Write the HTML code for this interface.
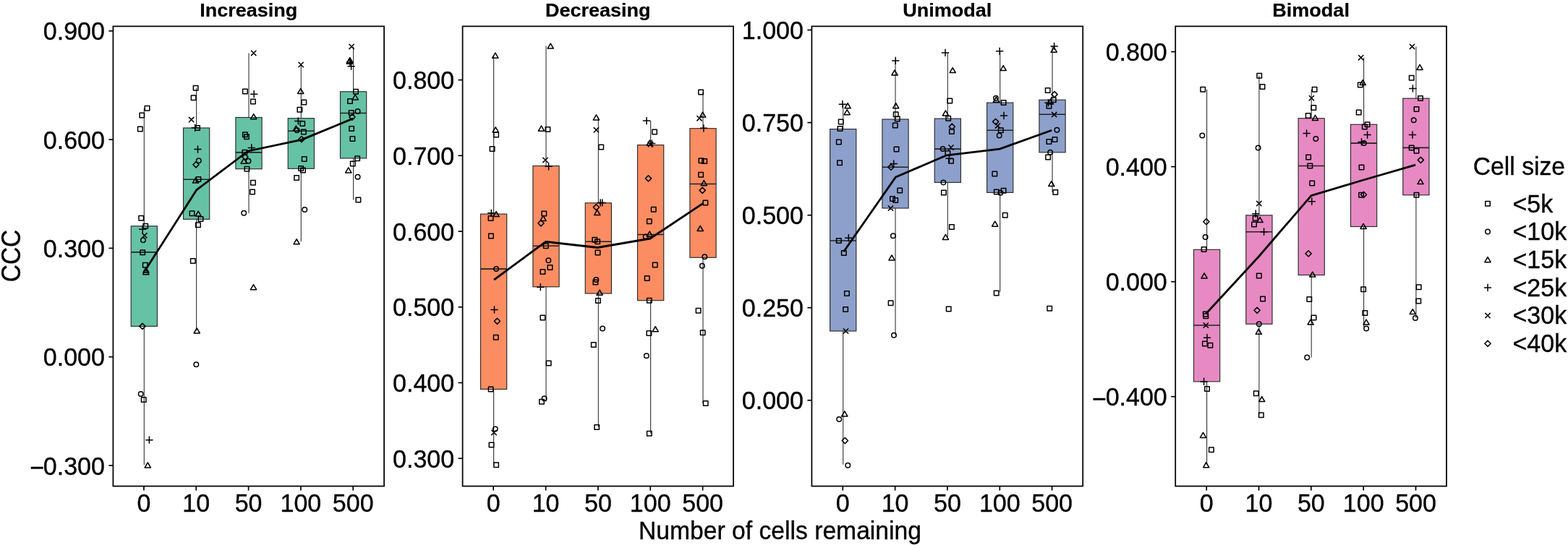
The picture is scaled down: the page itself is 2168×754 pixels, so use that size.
<!DOCTYPE html>
<html><head><meta charset="utf-8"><title>CCC by number of cells remaining</title>
<style>
html,body{margin:0;padding:0;background:#fff;}
body{width:2168px;height:754px;overflow:hidden;}
svg{display:block;}
text{font-family:"Liberation Sans",Arial,Helvetica,sans-serif;fill:#000;stroke:#000;stroke-width:0.35px;}
.yl{font-size:34px;text-anchor:end;}
.xl{font-size:34px;text-anchor:middle;}
.at{font-size:34px;text-anchor:middle;}
.lt{font-size:34px;}
.ll{font-size:34px;}
.st{font-size:26.25px;font-weight:bold;text-anchor:middle;stroke-width:0.2px;}
.wh{stroke:#333;stroke-width:1.1;}
.bx{stroke:#2a2a2a;stroke-width:1.15;}
.md{stroke:#222;stroke-width:1.6;}
.pts{fill:none;stroke:#000;stroke-width:1.5;stroke-linecap:round;stroke-linejoin:round;}
.mean{fill:none;stroke:#000;stroke-width:2.8;stroke-linejoin:round;}
.frame{fill:none;stroke:#000;stroke-width:1.75;}
.tk{stroke:#000;stroke-width:1.7;}
</style></head>
<body>
<svg width="2168" height="754" viewBox="0 0 2168 754">
<rect width="2168" height="754" fill="#fff"/>
<g class="box"><line class="wh" x1="199.3" y1="149.7" x2="199.3" y2="643.3"/><rect class="bx" x="181.2" y="312.8" width="36.2" height="138.6" fill="#66C2A5"/><line class="md" x1="181.2" y1="348.9" x2="217.4" y2="348.9"/><line class="wh" x1="271.6" y1="121.6" x2="271.6" y2="457.5"/><rect class="bx" x="253.5" y="177" width="36.2" height="126.3" fill="#66C2A5"/><line class="md" x1="253.5" y1="248.3" x2="289.7" y2="248.3"/><line class="wh" x1="344" y1="73.4" x2="344" y2="294.8"/><rect class="bx" x="325.9" y="162.5" width="36.2" height="71.2" fill="#66C2A5"/><line class="md" x1="325.9" y1="210.9" x2="362.1" y2="210.9"/><line class="wh" x1="416.3" y1="89.5" x2="416.3" y2="334.3"/><rect class="bx" x="398.2" y="163.7" width="36.2" height="69.6" fill="#66C2A5"/><line class="md" x1="398.2" y1="181.3" x2="434.4" y2="181.3"/><line class="wh" x1="488.6" y1="64.4" x2="488.6" y2="276.6"/><rect class="bx" x="470.5" y="126.8" width="36.2" height="92.1" fill="#66C2A5"/><line class="md" x1="470.5" y1="156.5" x2="506.7" y2="156.5"/></g>
<g class="pts"><rect x="200.25" y="146.45" width="6.5" height="6.5"/><rect x="193.05" y="156.25" width="6.5" height="6.5"/><rect x="190.55" y="175.35" width="6.5" height="6.5"/><rect x="191.95" y="298.45" width="6.5" height="6.5"/><rect x="197.95" y="309.55" width="6.5" height="6.5"/><path d="M192.6 317.2H201.8M197.2 312.6V321.8"/><path d="M196.6 322.6L203 329M196.6 329L203 322.6"/><circle cx="197.9" cy="332.2" r="3.25"/><rect x="193.95" y="346.05" width="6.5" height="6.5"/><rect x="197.55" y="363.45" width="6.5" height="6.5"/><path d="M201.8 370.05L205.9 377.1L197.7 377.1Z"/><path d="M201.8 372.65L205.9 379.7L197.7 379.7Z"/><path d="M196.9 447.3L201 451.4L196.9 455.5L192.8 451.4Z"/><circle cx="194.7" cy="545.1" r="3.25"/><rect x="195.45" y="549.75" width="6.5" height="6.5"/><path d="M201.8 608.7H211M206.4 604.1V613.3"/><path d="M204.3 639.95L208.4 647L200.2 647Z"/><rect x="267.35" y="118.45" width="6.5" height="6.5"/><rect x="264.35" y="132.05" width="6.5" height="6.5"/><path d="M261.4 162.4L267.8 168.8M261.4 168.8L267.8 162.4"/><path d="M265.1 176.8H274.3M269.7 172.2V181.4"/><rect x="269.75" y="173.75" width="6.5" height="6.5"/><path d="M268.9 206.6H278.1M273.5 202V211.2"/><circle cx="274.8" cy="222.3" r="3.25"/><path d="M271 223.7L275.1 227.8L271 231.9L266.9 227.8Z"/><rect x="271.15" y="244.85" width="6.5" height="6.5"/><path d="M270.6 245.85L274.7 252.9L266.5 252.9Z"/><rect x="262.25" y="292.05" width="6.5" height="6.5"/><path d="M274.1 292.05L278.2 299.1L270 299.1Z"/><rect x="274.25" y="299.65" width="6.5" height="6.5"/><rect x="270.65" y="307.95" width="6.5" height="6.5"/><rect x="263.55" y="357.75" width="6.5" height="6.5"/><path d="M272.2 453.95L276.3 461L268.1 461Z"/><circle cx="271.3" cy="504.2" r="3.25"/><path d="M347.5 70.2L353.9 76.6M347.5 76.6L353.9 70.2"/><rect x="335.65" y="123.15" width="6.5" height="6.5"/><path d="M346.6 130.2H355.8M351.2 125.6V134.8"/><rect x="346.65" y="137.15" width="6.5" height="6.5"/><path d="M350.7 157.65L354.8 164.7L346.6 164.7Z"/><rect x="335.65" y="182.95" width="6.5" height="6.5"/><rect x="337.75" y="185.95" width="6.5" height="6.5"/><path d="M343.2 204.4H352.4M347.8 199.8V209"/><rect x="335.15" y="207.55" width="6.5" height="6.5"/><path d="M338.9 213.1L343 217.2L338.9 221.3L334.8 217.2Z"/><path d="M337.2 219.15L341.3 226.2L333.1 226.2Z"/><circle cx="343.5" cy="222.7" r="3.25"/><rect x="338.15" y="230.45" width="6.5" height="6.5"/><rect x="346.65" y="249.55" width="6.5" height="6.5"/><rect x="345.75" y="262.25" width="6.5" height="6.5"/><circle cx="337.2" cy="294.8" r="3.25"/><path d="M350.5 393.65L354.6 400.7L346.4 400.7Z"/><path d="M412.9 86.3L419.3 92.7M412.9 92.7L419.3 86.3"/><path d="M415.7 122.45L419.8 129.5L411.6 129.5Z"/><rect x="417.05" y="138.35" width="6.5" height="6.5"/><rect x="411.15" y="148.55" width="6.5" height="6.5"/><path d="M407.7 167.5H416.9M412.3 162.9V172.1"/><rect x="414.95" y="167.65" width="6.5" height="6.5"/><path d="M409.3 174.15L413.4 181.2L405.2 181.2Z"/><circle cx="410.6" cy="180.3" r="3.25"/><rect x="416.65" y="179.15" width="6.5" height="6.5"/><path d="M416.9 188.5L421 192.6L416.9 196.7L412.8 192.6Z"/><rect x="417.45" y="216.85" width="6.5" height="6.5"/><rect x="412.85" y="229.65" width="6.5" height="6.5"/><rect x="415.75" y="232.15" width="6.5" height="6.5"/><rect x="406.85" y="242.75" width="6.5" height="6.5"/><circle cx="421.2" cy="290.1" r="3.25"/><path d="M410.1 330.75L414.2 337.8L406 337.8Z"/><path d="M482.9 61.2L489.3 67.6M482.9 67.6L489.3 61.2"/><path d="M483.8 79.65L487.9 86.7L479.7 86.7Z"/><path d="M483.2 81.25L487.3 88.3L479.1 88.3Z"/><path d="M479.3 86.2H488.5M483.9 81.6V90.8"/><path d="M481 91.7H490.2M485.6 87.1V96.3"/><rect x="488.75" y="123.55" width="6.5" height="6.5"/><path d="M491.2 130.85L495.3 137.9L487.1 137.9Z"/><rect x="480.75" y="136.75" width="6.5" height="6.5"/><circle cx="494.6" cy="153.9" r="3.25"/><rect x="482.45" y="152.85" width="6.5" height="6.5"/><path d="M487 157.9L491.1 162L487 166.1L482.9 162Z"/><rect x="482.85" y="174.85" width="6.5" height="6.5"/><rect x="484.15" y="188.85" width="6.5" height="6.5"/><rect x="490.85" y="216.05" width="6.5" height="6.5"/><rect x="484.55" y="223.25" width="6.5" height="6.5"/><path d="M481.8 231.85L485.9 238.9L477.7 238.9Z"/><circle cx="494.6" cy="244.7" r="3.25"/><rect x="492.15" y="273.35" width="6.5" height="6.5"/></g>
<polyline class="mean" points="202.5,371.3 271.9,262.6 343,209 416.9,193.4 488.2,164"/>
<rect class="frame" x="156.4" y="36.4" width="374.7" height="636.2"/>
<line class="tk" x1="150.4" y1="42.8" x2="156.4" y2="42.8"/>
<text class="yl" transform="translate(144.9 55.3) scale(1 1.04)">0.900</text>
<line class="tk" x1="150.4" y1="193.1" x2="156.4" y2="193.1"/>
<text class="yl" transform="translate(144.9 205.6) scale(1 1.04)">0.600</text>
<line class="tk" x1="150.4" y1="343.4" x2="156.4" y2="343.4"/>
<text class="yl" transform="translate(144.9 355.9) scale(1 1.04)">0.300</text>
<line class="tk" x1="150.4" y1="493.7" x2="156.4" y2="493.7"/>
<text class="yl" transform="translate(144.9 506.2) scale(1 1.04)">0.000</text>
<line class="tk" x1="150.4" y1="644" x2="156.4" y2="644"/>
<text class="yl" transform="translate(144.9 656.5) scale(1 1.04)"><tspan dy="2.5">−</tspan><tspan dx="-1.3" dy="-2.5">0.300</tspan></text>
<line class="tk" x1="198.9" y1="672.6" x2="198.9" y2="678.6"/>
<text class="xl" transform="translate(198.9 708.2) scale(1 1.04)">0</text>
<line class="tk" x1="271.2" y1="672.6" x2="271.2" y2="678.6"/>
<text class="xl" transform="translate(271.2 708.2) scale(1 1.04)">10</text>
<line class="tk" x1="343.6" y1="672.6" x2="343.6" y2="678.6"/>
<text class="xl" transform="translate(343.6 708.2) scale(1 1.04)">50</text>
<line class="tk" x1="415.9" y1="672.6" x2="415.9" y2="678.6"/>
<text class="xl" transform="translate(415.9 708.2) scale(1 1.04)">100</text>
<line class="tk" x1="488.2" y1="672.6" x2="488.2" y2="678.6"/>
<text class="xl" transform="translate(488.2 708.2) scale(1 1.04)">500</text>
<text class="st" transform="translate(343.75 22.9) scale(1.03 1)">Increasing</text>
<g class="box"><line class="wh" x1="682.6" y1="76.7" x2="682.6" y2="643.3"/><rect class="bx" x="664.5" y="296.1" width="36.2" height="242.4" fill="#FC8D62"/><line class="md" x1="664.5" y1="372.1" x2="700.7" y2="372.1"/><line class="wh" x1="755" y1="63.6" x2="755" y2="555.7"/><rect class="bx" x="736.9" y="229.5" width="36.2" height="167.3" fill="#FC8D62"/><line class="md" x1="736.9" y1="340.3" x2="773.1" y2="340.3"/><line class="wh" x1="827.3" y1="162.4" x2="827.3" y2="590.9"/><rect class="bx" x="809.2" y="280.8" width="36.2" height="125.2" fill="#FC8D62"/><line class="md" x1="809.2" y1="334.3" x2="845.4" y2="334.3"/><line class="wh" x1="899.6" y1="167.1" x2="899.6" y2="599.7"/><rect class="bx" x="881.5" y="200.6" width="36.2" height="215.1" fill="#FC8D62"/><line class="md" x1="881.5" y1="324.5" x2="917.7" y2="324.5"/><line class="wh" x1="972" y1="127.6" x2="972" y2="557.9"/><rect class="bx" x="953.9" y="177.7" width="36.2" height="178.6" fill="#FC8D62"/><line class="md" x1="953.9" y1="254.5" x2="990.1" y2="254.5"/></g>
<g class="pts"><path d="M684.8 73.15L688.9 80.2L680.7 80.2Z"/><path d="M685.2 175.85L689.3 182.9L681.1 182.9Z"/><rect x="682.85" y="183.35" width="6.5" height="6.5"/><rect x="677.35" y="202.85" width="6.5" height="6.5"/><path d="M674.7 294.8H683.9M679.3 290.2V299.4"/><path d="M686.1 292.55L690.2 299.6L682 299.6Z"/><rect x="675.25" y="298.75" width="6.5" height="6.5"/><rect x="675.65" y="323.35" width="6.5" height="6.5"/><circle cx="686.1" cy="372.1" r="3.25"/><path d="M678.9 428.5H688.1M683.5 423.9V433.1"/><path d="M687.4 440.2L691.5 444.3L687.4 448.4L683.3 444.3Z"/><rect x="682.45" y="463.55" width="6.5" height="6.5"/><rect x="675.35" y="535.25" width="6.5" height="6.5"/><circle cx="684.8" cy="593.5" r="3.25"/><path d="M679.8 595.2L686.2 601.6M679.8 601.6L686.2 595.2"/><rect x="676.25" y="612.25" width="6.5" height="6.5"/><rect x="682.85" y="640.05" width="6.5" height="6.5"/><path d="M761.2 60.05L765.3 67.1L757.1 67.1Z"/><path d="M748.5 174.15L752.6 181.2L744.4 181.2Z"/><rect x="754.15" y="175.75" width="6.5" height="6.5"/><path d="M750.8 218.2L757.2 224.6M750.8 224.6L757.2 218.2"/><path d="M754 230.3H763.2M758.6 225.7V234.9"/><rect x="749.05" y="292.35" width="6.5" height="6.5"/><path d="M751 298.45L755.1 305.5L746.9 305.5Z"/><path d="M748 304.7L752.1 308.8L748 312.9L743.9 308.8Z"/><rect x="751.55" y="337.05" width="6.5" height="6.5"/><circle cx="758.3" cy="360.2" r="3.25"/><rect x="757.25" y="366.65" width="6.5" height="6.5"/><rect x="747.15" y="372.85" width="6.5" height="6.5"/><path d="M742.7 397.2H751.9M747.3 392.6V401.8"/><rect x="747.15" y="436.25" width="6.5" height="6.5"/><rect x="755.45" y="499.15" width="6.5" height="6.5"/><circle cx="752.6" cy="551.3" r="3.25"/><rect x="745.75" y="552.45" width="6.5" height="6.5"/><path d="M824.4 158.85L828.5 165.9L820.3 165.9Z"/><path d="M821.2 176.6L827.6 183M821.2 183L827.6 176.6"/><rect x="827.95" y="200.35" width="6.5" height="6.5"/><path d="M825.6 280.5H834.8M830.2 275.9V285.1"/><path d="M828.2 280.5H837.4M832.8 275.9V285.1"/><path d="M824.4 282.6L828.5 286.7L824.4 290.8L820.3 286.7Z"/><path d="M825.7 290.45L829.8 297.5L821.6 297.5Z"/><rect x="819.05" y="328.45" width="6.5" height="6.5"/><rect x="822.85" y="331.05" width="6.5" height="6.5"/><rect x="823.25" y="346.35" width="6.5" height="6.5"/><circle cx="824.3" cy="387.1" r="3.25"/><rect x="820.15" y="387.35" width="6.5" height="6.5"/><path d="M829.1 401.15L833.2 408.2L825 408.2Z"/><rect x="823.65" y="412.85" width="6.5" height="6.5"/><circle cx="833.1" cy="454.4" r="3.25"/><rect x="817.55" y="473.65" width="6.5" height="6.5"/><rect x="821.95" y="587.65" width="6.5" height="6.5"/><path d="M889.4 167.1H898.6M894 162.5V171.7"/><rect x="901.75" y="179.15" width="6.5" height="6.5"/><path d="M898.2 194.05L902.3 201.1L894.1 201.1Z"/><path d="M896.3 196.6L902.7 203M896.3 203L902.7 196.6"/><path d="M896.6 198.5H905.8M901.2 193.9V203.1"/><path d="M896.5 242.8L900.6 246.9L896.5 251L892.4 246.9Z"/><rect x="900.45" y="286.45" width="6.5" height="6.5"/><rect x="894.55" y="303.05" width="6.5" height="6.5"/><path d="M898.2 320.15L902.3 327.2L894.1 327.2Z"/><circle cx="892.7" cy="327.5" r="3.25"/><rect x="902.45" y="363.15" width="6.5" height="6.5"/><rect x="891.45" y="381.65" width="6.5" height="6.5"/><rect x="894.55" y="412.45" width="6.5" height="6.5"/><path d="M906.2 451.75L910.3 458.8L902.1 458.8Z"/><rect x="894.15" y="457.75" width="6.5" height="6.5"/><circle cx="893.8" cy="492.3" r="3.25"/><rect x="894.55" y="596.45" width="6.5" height="6.5"/><rect x="965.85" y="124.35" width="6.5" height="6.5"/><path d="M971.6 155.05L975.7 162.1L967.5 162.1Z"/><path d="M963.8 160.5L970.2 166.9M963.8 166.9L970.2 160.5"/><path d="M968.3 177.3H977.5M972.9 172.7V181.9"/><rect x="966.25" y="219.05" width="6.5" height="6.5"/><rect x="970.95" y="219.85" width="6.5" height="6.5"/><rect x="965.85" y="238.55" width="6.5" height="6.5"/><path d="M973.3 249.65L977.4 256.7L969.2 256.7Z"/><path d="M971.2 259.3L975.3 263.4L971.2 267.5L967.1 263.4Z"/><rect x="972.15" y="277.15" width="6.5" height="6.5"/><path d="M968.2 312.45L972.3 319.5L964.1 319.5Z"/><circle cx="974.3" cy="355.2" r="3.25"/><circle cx="970.9" cy="367.7" r="3.25"/><rect x="962.35" y="426.55" width="6.5" height="6.5"/><rect x="968.45" y="456.95" width="6.5" height="6.5"/><rect x="972.45" y="554.65" width="6.5" height="6.5"/></g>
<polyline class="mean" points="683,387.2 754.6,334.4 826.2,342.5 899,330 972,281.4"/>
<rect class="frame" x="639.6" y="36.4" width="374.4" height="636.2"/>
<line class="tk" x1="633.6" y1="110.6" x2="639.6" y2="110.6"/>
<text class="yl" transform="translate(628.1 123.1) scale(1 1.04)">0.800</text>
<line class="tk" x1="633.6" y1="215.3" x2="639.6" y2="215.3"/>
<text class="yl" transform="translate(628.1 227.8) scale(1 1.04)">0.700</text>
<line class="tk" x1="633.6" y1="320.1" x2="639.6" y2="320.1"/>
<text class="yl" transform="translate(628.1 332.6) scale(1 1.04)">0.600</text>
<line class="tk" x1="633.6" y1="424.8" x2="639.6" y2="424.8"/>
<text class="yl" transform="translate(628.1 437.3) scale(1 1.04)">0.500</text>
<line class="tk" x1="633.6" y1="529.5" x2="639.6" y2="529.5"/>
<text class="yl" transform="translate(628.1 542) scale(1 1.04)">0.400</text>
<line class="tk" x1="633.6" y1="634.2" x2="639.6" y2="634.2"/>
<text class="yl" transform="translate(628.1 646.7) scale(1 1.04)">0.300</text>
<line class="tk" x1="682.2" y1="672.6" x2="682.2" y2="678.6"/>
<text class="xl" transform="translate(682.2 708.2) scale(1 1.04)">0</text>
<line class="tk" x1="754.6" y1="672.6" x2="754.6" y2="678.6"/>
<text class="xl" transform="translate(754.6 708.2) scale(1 1.04)">10</text>
<line class="tk" x1="826.9" y1="672.6" x2="826.9" y2="678.6"/>
<text class="xl" transform="translate(826.9 708.2) scale(1 1.04)">50</text>
<line class="tk" x1="899.2" y1="672.6" x2="899.2" y2="678.6"/>
<text class="xl" transform="translate(899.2 708.2) scale(1 1.04)">100</text>
<line class="tk" x1="971.6" y1="672.6" x2="971.6" y2="678.6"/>
<text class="xl" transform="translate(971.6 708.2) scale(1 1.04)">500</text>
<text class="st" transform="translate(826.8 22.9) scale(1.03 1)">Decreasing</text>
<g class="box"><line class="wh" x1="1165.7" y1="144.2" x2="1165.7" y2="642.8"/><rect class="bx" x="1147.6" y="178.6" width="36.2" height="279.4" fill="#8DA0CB"/><line class="md" x1="1147.6" y1="333" x2="1183.8" y2="333"/><line class="wh" x1="1238" y1="83.9" x2="1238" y2="463.7"/><rect class="bx" x="1219.9" y="165" width="36.2" height="123" fill="#8DA0CB"/><line class="md" x1="1219.9" y1="231.2" x2="1256.1" y2="231.2"/><line class="wh" x1="1310.3" y1="72.9" x2="1310.3" y2="327.9"/><rect class="bx" x="1292.2" y="164.1" width="36.2" height="88.3" fill="#8DA0CB"/><line class="md" x1="1292.2" y1="206.1" x2="1328.4" y2="206.1"/><line class="wh" x1="1382.7" y1="70.8" x2="1382.7" y2="403.8"/><rect class="bx" x="1364.6" y="142.1" width="36.2" height="124.3" fill="#8DA0CB"/><line class="md" x1="1364.6" y1="180.3" x2="1400.8" y2="180.3"/><line class="wh" x1="1455" y1="64" x2="1455" y2="266"/><rect class="bx" x="1436.9" y="138.2" width="36.2" height="72.6" fill="#8DA0CB"/><line class="md" x1="1436.9" y1="158.2" x2="1473.1" y2="158.2"/></g>
<g class="pts"><path d="M1160.3 144.2H1169.5M1164.9 139.6V148.8"/><path d="M1172.1 142.75L1176.2 149.8L1168 149.8Z"/><path d="M1171.2 151.65L1175.3 158.7L1167.1 158.7Z"/><rect x="1159.45" y="165.15" width="6.5" height="6.5"/><rect x="1158.25" y="174.85" width="6.5" height="6.5"/><rect x="1156.55" y="193.15" width="6.5" height="6.5"/><rect x="1157.75" y="221.95" width="6.5" height="6.5"/><rect x="1156.55" y="329.75" width="6.5" height="6.5"/><path d="M1168.7 329.2H1177.9M1173.3 324.6V333.8"/><rect x="1163.55" y="346.75" width="6.5" height="6.5"/><rect x="1167.65" y="402.75" width="6.5" height="6.5"/><rect x="1165.85" y="424.75" width="6.5" height="6.5"/><path d="M1166.3 454.8L1172.7 461.2M1166.3 461.2L1172.7 454.8"/><path d="M1167.8 568.85L1171.9 575.9L1163.7 575.9Z"/><circle cx="1160.2" cy="579.9" r="3.25"/><path d="M1168.3 605.5L1172.4 609.6L1168.3 613.7L1164.2 609.6Z"/><circle cx="1172.3" cy="643.8" r="3.25"/><path d="M1233.6 83.9H1242.8M1238.2 79.3V88.5"/><path d="M1237 96.95L1241.1 104L1232.9 104Z"/><path d="M1238.7 142.75L1242.8 149.8L1234.6 149.8Z"/><rect x="1235.45" y="154.95" width="6.5" height="6.5"/><rect x="1237.55" y="161.35" width="6.5" height="6.5"/><rect x="1234.55" y="170.25" width="6.5" height="6.5"/><rect x="1236.25" y="203.35" width="6.5" height="6.5"/><path d="M1231.1 226.5H1240.3M1235.7 221.9V231.1"/><path d="M1231.9 227.1L1236 231.2L1231.9 235.3L1227.8 231.2Z"/><rect x="1240.95" y="260.15" width="6.5" height="6.5"/><rect x="1230.75" y="271.65" width="6.5" height="6.5"/><rect x="1234.95" y="273.75" width="6.5" height="6.5"/><path d="M1228.3 284.8L1234.7 291.2M1228.3 291.2L1234.7 284.8"/><circle cx="1234.9" cy="326.2" r="3.25"/><path d="M1233 352.95L1237.1 360L1228.9 360Z"/><rect x="1228.35" y="415.95" width="6.5" height="6.5"/><circle cx="1236" cy="463.7" r="3.25"/><path d="M1302.4 72.9H1311.6M1307 68.3V77.5"/><path d="M1317.2 93.55L1321.3 100.6L1313.1 100.6Z"/><rect x="1310.05" y="136.25" width="6.5" height="6.5"/><path d="M1307.4 152.95L1311.5 160L1303.3 160Z"/><rect x="1307.95" y="160.45" width="6.5" height="6.5"/><path d="M1316.3 171.1L1320.4 175.2L1316.3 179.3L1312.2 175.2Z"/><rect x="1312.65" y="178.65" width="6.5" height="6.5"/><circle cx="1303.6" cy="206.1" r="3.25"/><path d="M1311.8 200.8L1318.2 207.2M1311.8 207.2L1318.2 200.8"/><rect x="1307.15" y="208.85" width="6.5" height="6.5"/><path d="M1307.9 219.3H1317.1M1312.5 214.7V223.9"/><rect x="1311.75" y="219.45" width="6.5" height="6.5"/><circle cx="1304.4" cy="252.4" r="3.25"/><rect x="1301.65" y="263.15" width="6.5" height="6.5"/><rect x="1312.65" y="310.65" width="6.5" height="6.5"/><path d="M1307.4 324.35L1311.5 331.4L1303.3 331.4Z"/><rect x="1308.45" y="424.35" width="6.5" height="6.5"/><path d="M1377.5 70.8H1386.7M1382.1 66.2V75.4"/><path d="M1387.2 90.55L1391.3 97.6L1383.1 97.6Z"/><circle cx="1377" cy="135.7" r="3.25"/><path d="M1377.4 134.25L1381.5 141.3L1373.3 141.3Z"/><rect x="1384.35" y="138.85" width="6.5" height="6.5"/><path d="M1383.4 159.9H1392.6M1388 155.3V164.5"/><path d="M1376.6 164.3L1380.7 168.4L1376.6 172.5L1372.5 168.4Z"/><path d="M1376.3 170.7L1382.7 177.1M1376.3 177.1L1382.7 170.7"/><rect x="1380.55" y="177.05" width="6.5" height="6.5"/><circle cx="1381.7" cy="187.5" r="3.25"/><rect x="1372.05" y="237.25" width="6.5" height="6.5"/><rect x="1384.35" y="260.55" width="6.5" height="6.5"/><rect x="1374.55" y="262.25" width="6.5" height="6.5"/><circle cx="1383.3" cy="266.8" r="3.25"/><rect x="1386.45" y="294.55" width="6.5" height="6.5"/><path d="M1375.7 306.15L1379.8 313.2L1371.6 313.2Z"/><rect x="1374.45" y="402.35" width="6.5" height="6.5"/><path d="M1453 64H1462.2M1457.6 59.4V68.6"/><path d="M1457.2 65.15L1461.3 72.2L1453.1 72.2Z"/><rect x="1445.45" y="121.85" width="6.5" height="6.5"/><path d="M1458 126.5L1462.1 130.6L1458 134.7L1453.9 130.6Z"/><rect x="1453.45" y="134.95" width="6.5" height="6.5"/><path d="M1452.3 137.05L1456.4 144.1L1448.2 144.1Z"/><path d="M1444.9 142.3H1454.1M1449.5 137.7V146.9"/><rect x="1447.15" y="143.55" width="6.5" height="6.5"/><path d="M1454.4 155.4L1460.8 161.8M1454.4 161.8L1460.8 155.4"/><circle cx="1461.4" cy="179.8" r="3.25"/><rect x="1455.15" y="189.75" width="6.5" height="6.5"/><rect x="1447.15" y="192.75" width="6.5" height="6.5"/><circle cx="1452.1" cy="210.8" r="3.25"/><rect x="1445.85" y="214.35" width="6.5" height="6.5"/><path d="M1453.8 250.55L1457.9 257.6L1449.7 257.6Z"/><rect x="1456.05" y="262.75" width="6.5" height="6.5"/><rect x="1447.95" y="423.45" width="6.5" height="6.5"/></g>
<polyline class="mean" points="1166.5,348.3 1238.4,245 1309,214.8 1382.1,206.1 1454.2,180.3"/>
<rect class="frame" x="1122.4" y="36.4" width="374.8" height="636.2"/>
<line class="tk" x1="1116.4" y1="41.5" x2="1122.4" y2="41.5"/>
<text class="yl" transform="translate(1110.9 54) scale(1 1.04)">1.000</text>
<line class="tk" x1="1116.4" y1="169.6" x2="1122.4" y2="169.6"/>
<text class="yl" transform="translate(1110.9 182.1) scale(1 1.04)">0.750</text>
<line class="tk" x1="1116.4" y1="297.7" x2="1122.4" y2="297.7"/>
<text class="yl" transform="translate(1110.9 310.2) scale(1 1.04)">0.500</text>
<line class="tk" x1="1116.4" y1="425.7" x2="1122.4" y2="425.7"/>
<text class="yl" transform="translate(1110.9 438.2) scale(1 1.04)">0.250</text>
<line class="tk" x1="1116.4" y1="553.8" x2="1122.4" y2="553.8"/>
<text class="yl" transform="translate(1110.9 566.3) scale(1 1.04)">0.000</text>
<line class="tk" x1="1165.3" y1="672.6" x2="1165.3" y2="678.6"/>
<text class="xl" transform="translate(1165.3 708.2) scale(1 1.04)">0</text>
<line class="tk" x1="1237.6" y1="672.6" x2="1237.6" y2="678.6"/>
<text class="xl" transform="translate(1237.6 708.2) scale(1 1.04)">10</text>
<line class="tk" x1="1309.9" y1="672.6" x2="1309.9" y2="678.6"/>
<text class="xl" transform="translate(1309.9 708.2) scale(1 1.04)">50</text>
<line class="tk" x1="1382.3" y1="672.6" x2="1382.3" y2="678.6"/>
<text class="xl" transform="translate(1382.3 708.2) scale(1 1.04)">100</text>
<line class="tk" x1="1454.6" y1="672.6" x2="1454.6" y2="678.6"/>
<text class="xl" transform="translate(1454.6 708.2) scale(1 1.04)">500</text>
<text class="st" transform="translate(1309.8 22.9) scale(1.03 1)">Unimodal</text>
<g class="box"><line class="wh" x1="1668.6" y1="123.8" x2="1668.6" y2="642.4"/><rect class="bx" x="1650.5" y="345.3" width="36.2" height="182.6" fill="#E78AC3"/><line class="md" x1="1650.5" y1="450" x2="1686.7" y2="450"/><line class="wh" x1="1740.9" y1="104.7" x2="1740.9" y2="574.2"/><rect class="bx" x="1722.8" y="297.8" width="36.2" height="150.5" fill="#E78AC3"/><line class="md" x1="1722.8" y1="320.7" x2="1759" y2="320.7"/><line class="wh" x1="1813.2" y1="123.8" x2="1813.2" y2="494.5"/><rect class="bx" x="1795.1" y="163.7" width="36.2" height="216.8" fill="#E78AC3"/><line class="md" x1="1795.1" y1="229.5" x2="1831.3" y2="229.5"/><line class="wh" x1="1885.6" y1="79.7" x2="1885.6" y2="452.2"/><rect class="bx" x="1867.5" y="172.2" width="36.2" height="141.3" fill="#E78AC3"/><line class="md" x1="1867.5" y1="198.1" x2="1903.7" y2="198.1"/><line class="wh" x1="1957.9" y1="64.4" x2="1957.9" y2="439.9"/><rect class="bx" x="1939.8" y="136.1" width="36.2" height="133.7" fill="#E78AC3"/><line class="md" x1="1939.8" y1="204.4" x2="1976" y2="204.4"/></g>
<g class="pts"><rect x="1659.95" y="120.55" width="6.5" height="6.5"/><circle cx="1662.3" cy="187.5" r="3.25"/><path d="M1667.9 302.6L1672 306.7L1667.9 310.8L1663.8 306.7Z"/><circle cx="1666.6" cy="327.9" r="3.25"/><rect x="1661.35" y="341.65" width="6.5" height="6.5"/><path d="M1665.1 377.85L1669.2 384.9L1661 384.9Z"/><rect x="1663.55" y="431.35" width="6.5" height="6.5"/><rect x="1664.05" y="434.05" width="6.5" height="6.5"/><path d="M1664.1 446.8L1670.5 453.2M1664.1 453.2L1670.5 446.8"/><path d="M1664.4 467.2H1673.6M1669 462.6V471.8"/><rect x="1662.65" y="472.35" width="6.5" height="6.5"/><rect x="1670.15" y="474.55" width="6.5" height="6.5"/><path d="M1660 527.9H1669.2M1664.6 523.3V532.5"/><rect x="1665.75" y="534.85" width="6.5" height="6.5"/><path d="M1663.5 598.35L1667.6 605.4L1659.4 605.4Z"/><rect x="1671.65" y="619.05" width="6.5" height="6.5"/><path d="M1667.7 639.75L1671.8 646.8L1663.6 646.8Z"/><rect x="1737.95" y="101.45" width="6.5" height="6.5"/><rect x="1742.25" y="116.75" width="6.5" height="6.5"/><circle cx="1739.6" cy="204.4" r="3.25"/><path d="M1737.6 278.4L1744 284.8M1737.6 284.8L1744 278.4"/><path d="M1731.6 295.7H1740.8M1736.2 291.1V300.3"/><rect x="1732.45" y="298.75" width="6.5" height="6.5"/><path d="M1742.1 300.55L1746.2 307.6L1738 307.6Z"/><rect x="1730.75" y="307.25" width="6.5" height="6.5"/><path d="M1743 320.7H1752.2M1747.6 316.1V325.3"/><rect x="1737.55" y="378.15" width="6.5" height="6.5"/><rect x="1742.75" y="410.25" width="6.5" height="6.5"/><path d="M1738.1 425.2L1742.2 429.3L1738.1 433.4L1734 429.3Z"/><circle cx="1740.8" cy="448.3" r="3.25"/><path d="M1740.3 455.25L1744.4 462.3L1736.2 462.3Z"/><rect x="1733.55" y="540.95" width="6.5" height="6.5"/><path d="M1744.7 548.55L1748.8 555.6L1740.6 555.6Z"/><rect x="1740.55" y="570.95" width="6.5" height="6.5"/><rect x="1814.35" y="120.55" width="6.5" height="6.5"/><path d="M1810.2 132.5L1816.6 138.9M1810.2 138.9L1816.6 132.5"/><rect x="1813.05" y="145.65" width="6.5" height="6.5"/><rect x="1805.45" y="156.65" width="6.5" height="6.5"/><path d="M1818.5 159.35L1822.6 166.4L1814.4 166.4Z"/><path d="M1802 184.5H1811.2M1806.6 179.9V189.1"/><circle cx="1819.3" cy="192.1" r="3.25"/><rect x="1805.85" y="214.35" width="6.5" height="6.5"/><rect x="1808.05" y="226.25" width="6.5" height="6.5"/><rect x="1810.95" y="250.35" width="6.5" height="6.5"/><path d="M1809.2 278.7H1818.4M1813.8 274.1V283.3"/><path d="M1809.1 346.8L1813.2 350.9L1809.1 355L1805 350.9Z"/><path d="M1814.7 376.05L1818.8 383.1L1810.6 383.1Z"/><rect x="1807.05" y="410.65" width="6.5" height="6.5"/><rect x="1813.25" y="436.25" width="6.5" height="6.5"/><path d="M1812.1 442.05L1816.2 449.1L1808 449.1Z"/><circle cx="1807.2" cy="494.5" r="3.25"/><path d="M1878.5 76.5L1884.9 82.9M1878.5 82.9L1884.9 76.5"/><path d="M1884.2 110.55L1888.3 117.6L1880.1 117.6Z"/><rect x="1877.55" y="114.25" width="6.5" height="6.5"/><rect x="1875.45" y="152.35" width="6.5" height="6.5"/><rect x="1887.35" y="168.95" width="6.5" height="6.5"/><rect x="1883.55" y="172.35" width="6.5" height="6.5"/><path d="M1886 186.6H1895.2M1890.6 182V191.2"/><path d="M1877.9 196.4H1887.1M1882.5 191.8V201"/><circle cx="1885.9" cy="198.1" r="3.25"/><rect x="1879.25" y="228.35" width="6.5" height="6.5"/><rect x="1878.85" y="266.55" width="6.5" height="6.5"/><path d="M1885.5 265.2L1889.6 269.3L1885.5 273.4L1881.4 269.3Z"/><path d="M1885.1 309.45L1889.2 316.5L1881 316.5Z"/><rect x="1881.85" y="397.05" width="6.5" height="6.5"/><rect x="1884.05" y="429.65" width="6.5" height="6.5"/><path d="M1889.1 442.05L1893.2 449.1L1885 449.1Z"/><circle cx="1889.1" cy="454.4" r="3.25"/><path d="M1949.3 61.2L1955.7 67.6M1949.3 67.6L1955.7 61.2"/><path d="M1963.1 89.35L1967.2 96.4L1959 96.4Z"/><rect x="1948.45" y="104.45" width="6.5" height="6.5"/><path d="M1948.8 122.5H1958M1953.4 117.9V127.1"/><rect x="1960.75" y="132.85" width="6.5" height="6.5"/><rect x="1955.25" y="147.75" width="6.5" height="6.5"/><circle cx="1954.7" cy="166.3" r="3.25"/><path d="M1948.4 186.6H1957.6M1953 182V191.2"/><rect x="1948.45" y="201.15" width="6.5" height="6.5"/><rect x="1955.25" y="205.45" width="6.5" height="6.5"/><path d="M1964.4 217.3L1968.5 221.4L1964.4 225.5L1960.3 221.4Z"/><path d="M1964 247.55L1968.1 254.6L1959.9 254.6Z"/><rect x="1955.25" y="266.55" width="6.5" height="6.5"/><rect x="1958.45" y="393.95" width="6.5" height="6.5"/><rect x="1958.05" y="413.35" width="6.5" height="6.5"/><path d="M1953.3 427.55L1957.4 434.6L1949.2 434.6Z"/><circle cx="1956.9" cy="439.9" r="3.25"/></g>
<polyline class="mean" points="1667.7,433.7 1740.4,355 1813,270.6 1885.2,249 1957.2,228.2"/>
<rect class="frame" x="1625.2" y="36.4" width="374.8" height="636.2"/>
<line class="tk" x1="1619.2" y1="71.6" x2="1625.2" y2="71.6"/>
<text class="yl" transform="translate(1613.7 84.1) scale(1 1.04)">0.800</text>
<line class="tk" x1="1619.2" y1="230.6" x2="1625.2" y2="230.6"/>
<text class="yl" transform="translate(1613.7 243.1) scale(1 1.04)">0.400</text>
<line class="tk" x1="1619.2" y1="389.7" x2="1625.2" y2="389.7"/>
<text class="yl" transform="translate(1613.7 402.2) scale(1 1.04)">0.000</text>
<line class="tk" x1="1619.2" y1="548.7" x2="1625.2" y2="548.7"/>
<text class="yl" transform="translate(1613.7 561.2) scale(1 1.04)"><tspan dy="2.5">−</tspan><tspan dx="-1.3" dy="-2.5">0.400</tspan></text>
<line class="tk" x1="1668.2" y1="672.6" x2="1668.2" y2="678.6"/>
<text class="xl" transform="translate(1668.2 708.2) scale(1 1.04)">0</text>
<line class="tk" x1="1740.5" y1="672.6" x2="1740.5" y2="678.6"/>
<text class="xl" transform="translate(1740.5 708.2) scale(1 1.04)">10</text>
<line class="tk" x1="1812.8" y1="672.6" x2="1812.8" y2="678.6"/>
<text class="xl" transform="translate(1812.8 708.2) scale(1 1.04)">50</text>
<line class="tk" x1="1885.2" y1="672.6" x2="1885.2" y2="678.6"/>
<text class="xl" transform="translate(1885.2 708.2) scale(1 1.04)">100</text>
<line class="tk" x1="1957.5" y1="672.6" x2="1957.5" y2="678.6"/>
<text class="xl" transform="translate(1957.5 708.2) scale(1 1.04)">500</text>
<text class="st" transform="translate(1812.6 22.9) scale(1.03 1)">Bimodal</text>
<text class="at" transform="translate(1078.5 745.6) scale(0.99 1.04)">Number of cells remaining</text>
<text class="at" transform="translate(28.3 354) rotate(-90) scale(0.985 1.09)" x="0" y="0">CCC</text>
<text class="lt" transform="translate(2036.8 241.7) scale(0.99 1.04)">Cell size</text>
<g class="pts"><rect x="2053.75" y="278.55" width="6.5" height="6.5"/><circle cx="2057" cy="320.5" r="3.25"/><path d="M2057 355.65L2061.1 362.7L2052.9 362.7Z"/><path d="M2052.4 397.9H2061.6M2057 393.3V402.5"/><path d="M2053.8 433.4L2060.2 439.8M2053.8 439.8L2060.2 433.4"/><path d="M2057 471.2L2061.1 475.3L2057 479.4L2052.9 475.3Z"/></g>
<text class="ll" transform="translate(2091.5 293.6) scale(1 1.04)">&lt;5k</text>
<text class="ll" transform="translate(2091.5 332.3) scale(1 1.04)">&lt;10k</text>
<text class="ll" transform="translate(2091.5 371) scale(1 1.04)">&lt;15k</text>
<text class="ll" transform="translate(2091.5 409.7) scale(1 1.04)">&lt;25k</text>
<text class="ll" transform="translate(2091.5 448.4) scale(1 1.04)">&lt;30k</text>
<text class="ll" transform="translate(2091.5 487.1) scale(1 1.04)">&lt;40k</text>
</svg>
</body></html>
